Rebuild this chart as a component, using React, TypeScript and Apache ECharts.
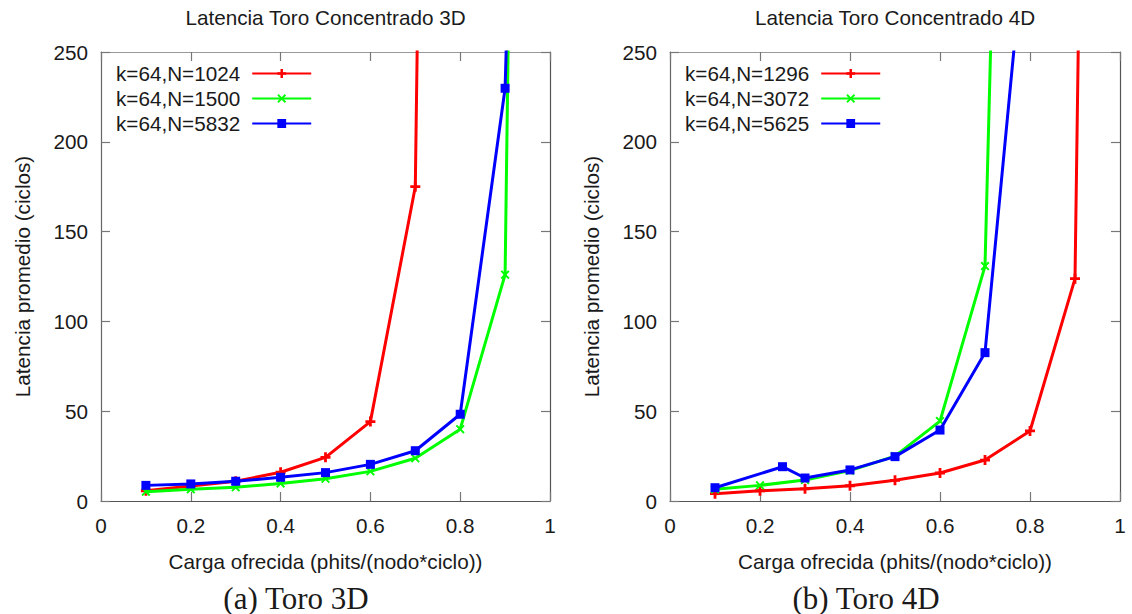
import { useEffect, useRef } from "react";
import * as echarts from "echarts";

// Load values (phits/(nodo*ciclo)) and average latency (ciclos)
const names3D = ["k=64,N=1024", "k=64,N=1500", "k=64,N=5832"];
const names4D = ["k=64,N=1296", "k=64,N=3072", "k=64,N=5625"];

const red3D = [[0.1, 5.7], [0.2, 8.4], [0.3, 11], [0.4, 16], [0.5, 24.3], [0.6, 44.2], [0.7, 175], [0.8, 2000]];
const green3D = [[0.1, 5.2], [0.2, 6.5], [0.3, 7.6], [0.4, 9.8], [0.5, 12.4], [0.6, 16.5], [0.7, 23.8], [0.8, 40], [0.9, 126], [1.0, 2000]];
const blue3D = [[0.1, 8.7], [0.2, 9.5], [0.3, 11], [0.4, 13.2], [0.5, 15.8], [0.6, 20.4], [0.7, 28], [0.8, 48.3], [0.9, 229.8], [1.0, 1100]];

const red4D = [[0.1, 4.1], [0.2, 5.7], [0.3, 6.8], [0.4, 8.5], [0.5, 11.5], [0.6, 15.6], [0.7, 22.8], [0.8, 39], [0.9, 123.8], [1.0, 1900]];
const green4D = [[0.1, 6.5], [0.2, 8.7], [0.3, 11.7], [0.4, 16.9], [0.5, 25], [0.6, 44.5], [0.7, 130.8], [0.8, 1100]];
const blue4D = [[0.1, 7.4], [0.25, 19.1], [0.3, 12.8], [0.4, 17.3], [0.5, 24.7], [0.6, 39.5], [0.7, 82.6], [0.8, 345]];

const titles = ["Latencia Toro Concentrado 3D", "Latencia Toro Concentrado 4D"];
const captions = ["(a) Toro 3D", "(b) Toro 4D"];
const xName = "Carga ofrecida (phits/(nodo*ciclo))";
const yName = "Latencia promedio (ciclos)";

const FONT = "Liberation Sans";
const FS = 20.7;
const TXT = "#1a1a1a";

const PLUS = "path://M0,3.6H10V6.4H0Z M3.6,0H6.4V10H3.6Z";
const CROSS = "path://M1.5,0L5,3.5L8.5,0L10,1.5L6.5,5L10,8.5L8.5,10L5,6.5L1.5,10L0,8.5L3.5,5L0,1.5Z";

const COLORS = ["#ff0000", "#00ff00", "#0000ff"];
const SYMBOLS = [PLUS, CROSS, "rect"];
const SIZES = [10, 9, 9];

export default function App() {
  const ref = useRef<HTMLDivElement>(null);
  useEffect(() => {
    if (!ref.current) return;
    const chart = echarts.init(ref.current, undefined, { renderer: "svg" });

    const grids = [
      { left: 101, right: 582, top: 52, bottom: 113 },
      { left: 670, right: 12, top: 52, bottom: 113 },
    ];

    const xAxes: any[] = [];
    const yAxes: any[] = [];
    grids.forEach((_, gi) => {
      xAxes.push({
        type: "value",
        gridIndex: gi,
        min: 0,
        max: 1,
        interval: 0.2,
        position: "bottom",
        name: xName,
        nameLocation: "middle",
        nameGap: 50,
        nameTextStyle: { fontFamily: FONT, fontSize: FS, color: TXT },
        axisLine: { show: true, onZero: false, lineStyle: { color: "#555", width: 1.2 } },
        axisTick: { show: true, inside: true, length: 9, lineStyle: { color: "#777", width: 1.2 } },
        axisLabel: { fontFamily: FONT, fontSize: FS, color: TXT, margin: 14 },
        splitLine: { show: false },
      });
      xAxes.push({
        type: "value",
        gridIndex: gi,
        min: 0,
        max: 1,
        interval: 0.2,
        position: "top",
        axisLine: { show: true, onZero: false, lineStyle: { color: "#999", width: 1.2 } },
        axisTick: { show: true, inside: true, length: 9, lineStyle: { color: "#777", width: 1.2 } },
        axisLabel: { show: false },
        splitLine: { show: false },
      });
      yAxes.push({
        type: "value",
        gridIndex: gi,
        min: 0,
        max: 250,
        interval: 50,
        position: "left",
        name: yName,
        nameLocation: "middle",
        nameGap: 68,
        nameTextStyle: { fontFamily: FONT, fontSize: FS, color: TXT },
        axisLine: { show: true, onZero: false, lineStyle: { color: "#666", width: 1.2 } },
        axisTick: { show: true, inside: true, length: 9, lineStyle: { color: "#777", width: 1.2 } },
        axisLabel: { fontFamily: FONT, fontSize: FS, color: TXT, margin: 13 },
        splitLine: { show: false },
      });
      yAxes.push({
        type: "value",
        gridIndex: gi,
        min: 0,
        max: 250,
        interval: 50,
        position: "right",
        axisLine: { show: true, onZero: false, lineStyle: { color: "#555", width: 1.2 } },
        axisTick: { show: true, inside: true, length: 9, lineStyle: { color: "#777", width: 1.2 } },
        axisLabel: { show: false },
        splitLine: { show: false },
      });
    });

    const mk = (name: string, data: number[][], i: number, gi: number) => ({
      type: "line",
      name,
      data,
      xAxisIndex: gi * 2,
      yAxisIndex: gi * 2,
      symbol: SYMBOLS[i],
      symbolSize: SIZES[i],
      showAllSymbol: true,
      clip: true,
      lineStyle: { color: COLORS[i], width: 3 },
      itemStyle: { color: COLORS[i] },
      emphasis: { disabled: true },
      z: 2 + i,
    });

    const series = [
      mk(names3D[0], red3D, 0, 0),
      mk(names3D[1], green3D, 1, 0),
      mk(names3D[2], blue3D, 2, 0),
      mk(names4D[0], red4D, 0, 1),
      mk(names4D[1], green4D, 1, 1),
      mk(names4D[2], blue4D, 2, 1),
    ];

    const legendBase = {
      orient: "vertical",
      top: 63,
      padding: 0,
      align: "right",
      itemWidth: 59,
      itemHeight: 11,
      itemGap: 4,
      selectedMode: false,
      textStyle: { fontFamily: FONT, fontSize: FS, color: TXT, lineHeight: 20, padding: [0, 7, 0, 0] },
    };

    chart.setOption({
      animation: false,
      backgroundColor: "#ffffff",
      grid: grids,
      xAxis: xAxes,
      yAxis: yAxes,
      legend: [
        { ...legendBase, left: 116, data: names3D },
        { ...legendBase, left: 685, data: names4D },
      ],
      series,
      graphic: [
        { type: "text", x: 325.5, y: 17, style: { text: titles[0], fontFamily: FONT, fontSize: FS, fill: TXT, textAlign: "center", textVerticalAlign: "middle" } },
        { type: "text", x: 895, y: 17, style: { text: titles[1], fontFamily: FONT, fontSize: FS, fill: TXT, textAlign: "center", textVerticalAlign: "middle" } },
        { type: "text", x: 296, y: 598, style: { text: captions[0], fontFamily: "Liberation Serif", fontSize: 31, fill: TXT, textAlign: "center", textVerticalAlign: "middle" } },
        { type: "text", x: 866, y: 598, style: { text: captions[1], fontFamily: "Liberation Serif", fontSize: 31, fill: TXT, textAlign: "center", textVerticalAlign: "middle" } },
      ],
    });

    return () => chart.dispose();
  }, []);

  return <div ref={ref} style={{ width: 1132, height: 614, position: "absolute", left: 0, top: 0 }} />;
}
